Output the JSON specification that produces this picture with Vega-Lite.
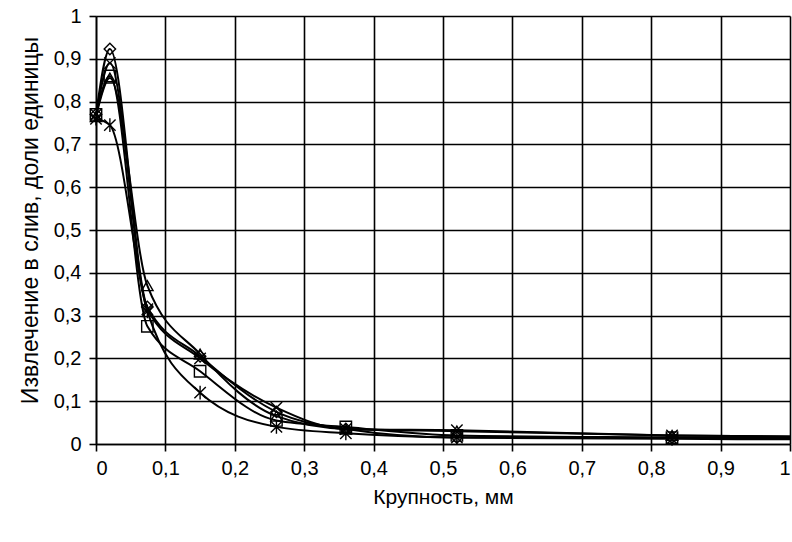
{
  "$schema": "https://vega.github.io/schema/vega-lite/v6.json",
  "width": 694,
  "height": 428,
  "autosize": "none",
  "padding": {"left": 96, "top": 16, "right": 2, "bottom": 98},
  "background": "white",
  "config": {
    "view": {"stroke": null},
    "font": "Liberation Sans",
    "axis": {
      "domainColor": "black",
      "tickColor": "black",
      "gridColor": "black",
      "gridWidth": 1.6,
      "gridOpacity": 1,
      "domainWidth": 1.6,
      "tickWidth": 1.6,
      "tickSize": 7,
      "labelColor": "black",
      "titleColor": "black",
      "labelFontSize": 20,
      "titleFontSize": 21,
      "labelFont": "Liberation Sans",
      "titleFont": "Liberation Sans",
      "titleFontWeight": "normal"
    }
  },
  "data": {
    "values": [
      {"s": "A", "x": 0, "y": 0.77}, {"s": "A", "x": 0.02, "y": 0.923}, {"s": "A", "x": 0.074, "y": 0.32}, {"s": "A", "x": 0.15, "y": 0.205}, {"s": "A", "x": 0.26, "y": 0.075}, {"s": "A", "x": 0.36, "y": 0.035}, {"s": "A", "x": 0.52, "y": 0.015}, {"s": "A", "x": 0.83, "y": 0.015}, {"s": "A", "x": 1.2, "y": 0.012},
      {"s": "B", "x": 0, "y": 0.77}, {"s": "B", "x": 0.02, "y": 0.86}, {"s": "B", "x": 0.074, "y": 0.275}, {"s": "B", "x": 0.15, "y": 0.17}, {"s": "B", "x": 0.26, "y": 0.055}, {"s": "B", "x": 0.36, "y": 0.04}, {"s": "B", "x": 0.52, "y": 0.02}, {"s": "B", "x": 0.83, "y": 0.015}, {"s": "B", "x": 1.2, "y": 0.01},
      {"s": "C", "x": 0, "y": 0.765}, {"s": "C", "x": 0.02, "y": 0.855}, {"s": "C", "x": 0.074, "y": 0.37}, {"s": "C", "x": 0.15, "y": 0.21}, {"s": "C", "x": 0.26, "y": 0.065}, {"s": "C", "x": 0.36, "y": 0.035}, {"s": "C", "x": 0.52, "y": 0.03}, {"s": "C", "x": 0.83, "y": 0.02}, {"s": "C", "x": 1.2, "y": 0.015},
      {"s": "D", "x": 0, "y": 0.77}, {"s": "D", "x": 0.02, "y": 0.89}, {"s": "D", "x": 0.074, "y": 0.315}, {"s": "D", "x": 0.15, "y": 0.2}, {"s": "D", "x": 0.26, "y": 0.085}, {"s": "D", "x": 0.36, "y": 0.035}, {"s": "D", "x": 0.52, "y": 0.032}, {"s": "D", "x": 0.83, "y": 0.02}, {"s": "D", "x": 1.2, "y": 0.015},
      {"s": "E", "x": 0, "y": 0.76}, {"s": "E", "x": 0.02, "y": 0.745}, {"s": "E", "x": 0.074, "y": 0.31}, {"s": "E", "x": 0.15, "y": 0.12}, {"s": "E", "x": 0.26, "y": 0.04}, {"s": "E", "x": 0.36, "y": 0.025}, {"s": "E", "x": 0.52, "y": 0.015}, {"s": "E", "x": 0.83, "y": 0.012}, {"s": "E", "x": 1.2, "y": 0.01}
    ]
  },
  "encoding": {
    "x": {
      "field": "x", "type": "quantitative",
      "scale": {"domain": [0, 1], "nice": false},
      "axis": {
        "values": [0, 0.1, 0.2, 0.3, 0.4, 0.5, 0.6, 0.7, 0.8, 0.9, 1],
        "labelExpr": "replace(format(datum.value, '.1~f'), '.', ',')",
        "title": "Крупность, мм",
        "labelPadding": 7,
        "titlePadding": 8,
        "grid": true
      }
    },
    "y": {
      "field": "y", "type": "quantitative",
      "scale": {"domain": [0, 1], "nice": false},
      "axis": {
        "values": [0, 0.1, 0.2, 0.3, 0.4, 0.5, 0.6, 0.7, 0.8, 0.9, 1],
        "labelExpr": "replace(format(datum.value, '.1~f'), '.', ',')",
        "title": "Извлечение в слив, доли единицы",
        "labelPadding": 8,
        "titleX": -66,
        "titleY": 204,
        "titleAngle": -90,
        "titleBaseline": "middle",
        "titleAlign": "center",
        "titleFontSize": 23,
        "grid": true
      }
    }
  },
  "layer": [
    {
      "mark": {"type": "line", "interpolate": "monotone", "color": "black", "strokeWidth": 2, "clip": true},
      "encoding": {"detail": {"field": "s"}}
    },
    {
      "transform": [{"filter": "datum.x <= 1"}],
      "mark": {"type": "point", "filled": false, "stroke": "black", "strokeWidth": 1.4, "size": 130, "fill": "white", "fillOpacity": 0, "opacity": 1},
      "encoding": {
        "shape": {
          "field": "s", "type": "nominal", "legend": null,
          "scale": {
            "domain": ["A", "B", "C", "D", "E"],
            "range": ["diamond", "square", "triangle-up", "M-1,-1L1,1M-1,1L1,-1", "M-1,-1L1,1M-1,1L1,-1M0,-1.2L0,1.2"]
          }
        }
      }
    }
  ]
}
